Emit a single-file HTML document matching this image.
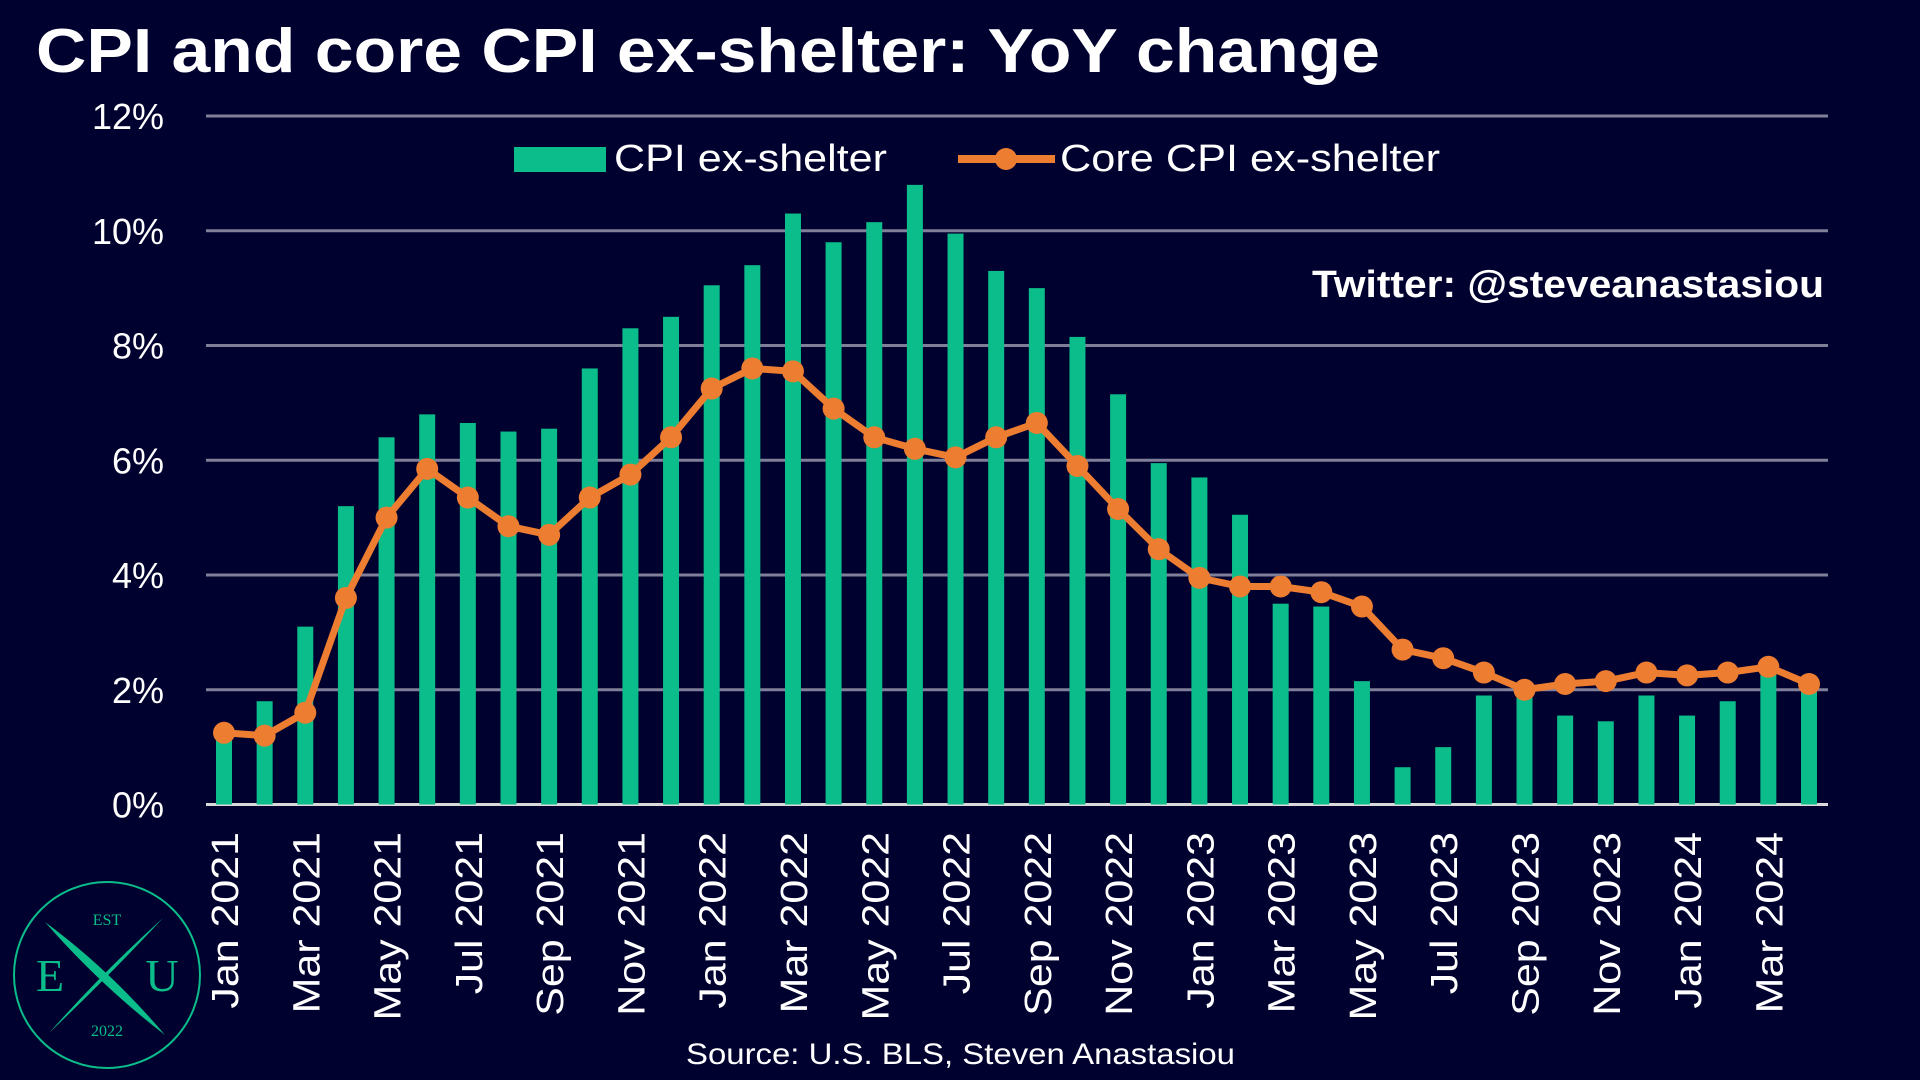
<!DOCTYPE html>
<html><head><meta charset="utf-8">
<style>
html,body{margin:0;padding:0;background:#01012f;}
svg{display:block;font-family:"Liberation Sans",sans-serif;}
</style></head>
<body>
<svg id="chart" width="1920" height="1080" viewBox="0 0 1920 1080" xmlns="http://www.w3.org/2000/svg">
<rect width="1920" height="1080" fill="#01012f"/>
<text x="36" y="72" fill="#fff" font-size="62" font-weight="bold" textLength="1344" lengthAdjust="spacingAndGlyphs">CPI and core CPI ex-shelter: YoY change</text>
<g id="grid"></g>
<g id="yticks"></g>
<g id="bars"></g>
<g id="line"></g>
<g id="xticks"></g>
<g>
  <g>
    <rect x="514" y="147" width="92" height="25" fill="#0bbd8a"/>
    <text x="614" y="171" fill="#fff" font-size="38" textLength="273" lengthAdjust="spacingAndGlyphs">CPI ex-shelter</text>
  </g>
  <g>
    <line x1="958" y1="159" x2="1055" y2="159" stroke="#ed7d31" stroke-width="8"/>
    <circle cx="1006" cy="159" r="11" fill="#ed7d31"/>
    <text x="1060" y="171" fill="#fff" font-size="38" textLength="380" lengthAdjust="spacingAndGlyphs">Core CPI ex-shelter</text>
  </g>
</g>
<text x="1824" y="297" text-anchor="end" fill="#fff" font-size="38" font-weight="bold" textLength="512" lengthAdjust="spacingAndGlyphs">Twitter: @steveanastasiou</text>
<text x="686" y="1064" fill="#fff" font-size="30" textLength="549" lengthAdjust="spacingAndGlyphs">Source: U.S. BLS, Steven Anastasiou</text>
<g>
  <circle cx="107" cy="975" r="93" fill="none" stroke="#0bbd8a" stroke-width="2"/>
  <path d="M45 922 Q110 970 165 1035 Q100 985 45 922Z" fill="#0bbd8a"/>
  <path d="M163 918 Q110 975 49 1033 Q105 970 163 918Z" fill="#0bbd8a"/>
  <text x="107" y="925" text-anchor="middle" fill="#0bbd8a" font-size="16" font-family="Liberation Serif,serif">EST</text>
  <text x="50" y="991" text-anchor="middle" fill="#0bbd8a" font-size="46" font-family="Liberation Serif,serif">E</text>
  <text x="162" y="991" text-anchor="middle" fill="#0bbd8a" font-size="46" font-family="Liberation Serif,serif">U</text>
  <text x="107" y="1036" text-anchor="middle" fill="#0bbd8a" font-size="16" font-family="Liberation Serif,serif">2022</text>
</g>
</svg>
<script>
const months = ["Jan 2021","Feb 2021","Mar 2021","Apr 2021","May 2021","Jun 2021","Jul 2021","Aug 2021","Sep 2021","Oct 2021","Nov 2021","Dec 2021",
"Jan 2022","Feb 2022","Mar 2022","Apr 2022","May 2022","Jun 2022","Jul 2022","Aug 2022","Sep 2022","Oct 2022","Nov 2022","Dec 2022",
"Jan 2023","Feb 2023","Mar 2023","Apr 2023","May 2023","Jun 2023","Jul 2023","Aug 2023","Sep 2023","Oct 2023","Nov 2023","Dec 2023",
"Jan 2024","Feb 2024","Mar 2024","Apr 2024"];
const cpiExShelter = [1.3,1.8,3.1,5.2,6.4,6.8,6.65,6.5,6.55,7.6,8.3,8.5,9.05,9.4,10.3,9.8,10.15,10.8,9.95,9.3,9.0,8.15,7.15,5.95,5.7,5.05,3.5,3.45,2.15,0.65,1.0,1.9,1.95,1.55,1.45,1.9,1.55,1.8,2.3,2.1];
const coreCpiExShelter = [1.25,1.2,1.6,3.6,5.0,5.85,5.35,4.85,4.7,5.35,5.75,6.4,7.25,7.6,7.55,6.9,6.4,6.2,6.05,6.4,6.65,5.9,5.15,4.45,3.95,3.8,3.8,3.7,3.45,2.7,2.55,2.3,2.0,2.1,2.15,2.3,2.25,2.3,2.4,2.1];
const yTicks = [0,2,4,6,8,10,12];
const yTickLabels = ["0%","2%","4%","6%","8%","10%","12%"];

const NS="http://www.w3.org/2000/svg";
const X0=224, X1=1809, PL=206, PR=1828, Y0=804.5, Y12=116;
const x = i => X0 + (X1-X0)*i/(months.length-1);
const y = v => Y0 - (Y0-Y12)*v/12;
function mk(tag, attrs, parent){const e=document.createElementNS(NS,tag);for(const k in attrs)e.setAttribute(k,attrs[k]);parent.appendChild(e);return e;}
const grid=document.getElementById('grid'), yt=document.getElementById('yticks'), bars=document.getElementById('bars'), line=document.getElementById('line'), xt=document.getElementById('xticks');
yTicks.forEach((t,i)=>{
  const g=mk('line',{x1:PL,x2:PR,y1:y(t),y2:y(t),stroke:t===0?'#d9d9d9':'#7f7f99','stroke-width':3},grid);
  
  
  const tx=mk('text',{x:164,y:y(t)+13,'text-anchor':'end',fill:'#fff','font-size':36},yt);
  
  
  tx.textContent=yTickLabels[i];
});
cpiExShelter.forEach((v,i)=>{
  const r=mk('rect',{x:x(i)-8,y:y(v),width:16,height:y(0)-y(v),fill:'#0bbd8a'},bars);
  
  
});
const pts=coreCpiExShelter.map((v,i)=>x(i)+','+y(v)).join(' ');
const pl=mk('polyline',{points:pts,fill:'none',stroke:'#ed7d31','stroke-width':7,'stroke-linejoin':'round'},line);


coreCpiExShelter.forEach((v,i)=>{
  const c=mk('circle',{cx:x(i),cy:y(v),r:11,fill:'#ed7d31'},line);
  
  
});
months.forEach((m,i)=>{
  if(i%2) return;
  const t=mk('text',{x:0,y:0,'text-anchor':'end',fill:'#fff','font-size':38,transform:`translate(${x(i)+14},832) rotate(-90) scale(1.13,1)`},xt);
  
  
  t.textContent=m;
});
</script>
</body></html>
